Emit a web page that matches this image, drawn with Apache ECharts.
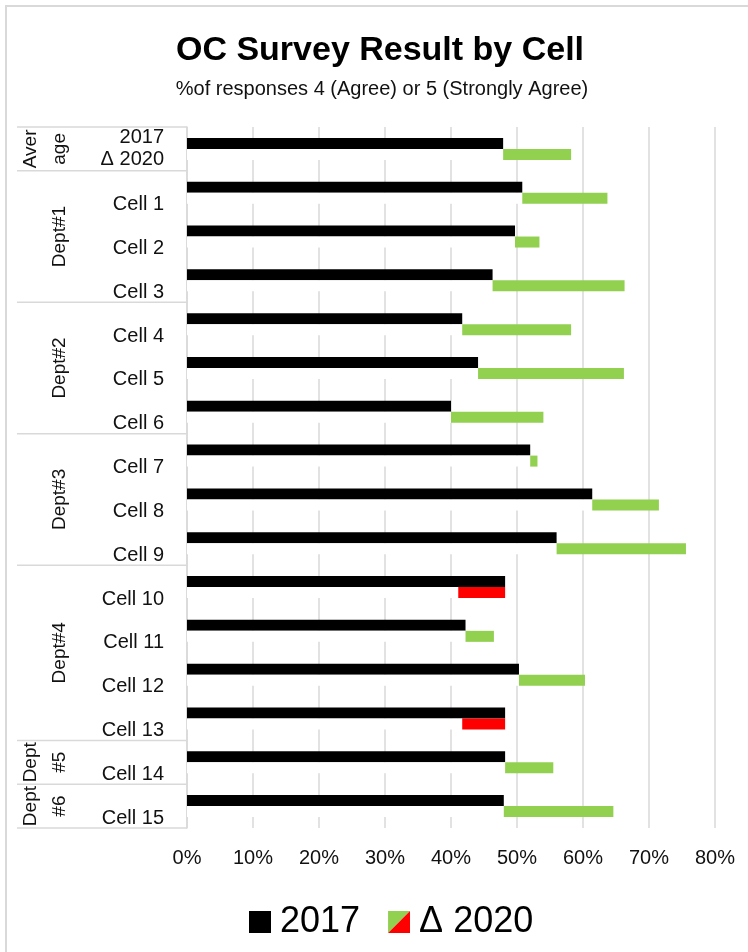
<!DOCTYPE html>
<html><head><meta charset="utf-8">
<script src="https://cdn.jsdelivr.net/npm/echarts@6/dist/echarts.min.js"></script>
<style>html,body{margin:0;padding:0;background:#fff}#c{width:748px;height:952px}</style>
</head><body><div id="c"></div>
<script>
// ---- data ----
const categories = ['Average','Cell 1','Cell 2','Cell 3','Cell 4','Cell 5','Cell 6','Cell 7','Cell 8','Cell 9','Cell 10','Cell 11','Cell 12','Cell 13','Cell 14','Cell 15'];
const values2017 = [47.9,50.8,49.7,46.3,41.7,44.1,40.0,52.0,61.4,56.0,48.2,42.2,50.3,48.2,48.2,48.0];
const values2020 = [58.2,63.7,53.4,66.3,58.2,66.2,54.0,53.1,71.5,75.6,41.1,46.5,60.3,41.7,55.5,64.6];
const groupLabels = [['Aver','age'],['Dept#1'],['Dept#2'],['Dept#3'],['Dept#4'],['Dept','#5'],['Dept','#6']];
const groupSizes = [1,3,3,3,4,1,1];
const xTicks = [0,10,20,30,40,50,60,70,80];
const averageLabel = '2017\nΔ 2020';

const FONT = "'Liberation Sans', Arial, sans-serif";
const GREEN = '#92d050', RED = '#ff0000';

const baseVals = values2017.map((v,i)=>Math.min(v, values2020[i]));
const deltaVals = values2020.map((v,i)=>({
  value: Math.abs(v - values2017[i]),
  itemStyle: {color: v >= values2017[i] ? GREEN : RED}
}));

const iconSvg = '<svg xmlns="http://www.w3.org/2000/svg" width="22" height="22"><polygon points="0,0 22,0 0,22" fill="'+GREEN+'"/><polygon points="22,0 22,22 0,22" fill="'+RED+'"/></svg>';
const iconUrl = 'image://data:image/svg+xml;charset=utf-8,' + encodeURIComponent(iconSvg);

const chart = echarts.init(document.getElementById('c'), null, {renderer:'canvas'});
chart.setOption({
  animation: false,
  backgroundColor: '#fff',
  title: [
    {text:'OC Survey Result by Cell', left:375, top:29, textAlign:'center',
     textStyle:{fontFamily:FONT, fontSize:34, fontWeight:'bold', color:'#000'}},
    {text:'%of responses 4 (Agree) or 5 (Strongly Agree)', left:377, top:74, textAlign:'center',
     textStyle:{fontFamily:FONT, fontSize:20, fontWeight:'normal', color:'#111'}}
  ],
  legend: {
    left: 249, top: 904, padding: 0, itemWidth: 22, itemHeight: 22, itemGap: 28,
    data: [{name:'2017', icon:'rect'}, {name:'Δ 2020', icon: iconUrl}],
    textStyle: {fontFamily: FONT, fontSize: 36, color:'#000', padding:[0,0,0,4]}
  },
  grid: {left:187, right:33, top:127, bottom:124, containLabel:false},
  xAxis: {
    type:'value', min:0, max:80, interval:10,
    axisLine:{show:false}, axisTick:{show:false},
    axisLabel:{formatter: v => v + '%', fontFamily:FONT, fontSize:20, color:'#111', margin:20},
    splitLine:{show:true, lineStyle:{color:'#d9d9d9', width:1.5}}
  },
  yAxis: {
    type:'category', inverse:true,
    data: categories.map((c,i)=> i===0 ? {value:c, textStyle:{verticalAlign:'middle', lineHeight:22}} : c),
    axisLine:{show:true, lineStyle:{color:'#d9d9d9', width:1.5}},
    axisTick:{show:false},
    axisLabel:{fontFamily:FONT, fontSize:20, color:'#111', margin:23, verticalAlign:'top', lineHeight:24,
      formatter: v => v === 'Average' ? averageLabel : v}
  },
  series: [
    {name:'2017', type:'bar', data: values2017, barWidth:11, barGap:'0%',
     itemStyle:{color:'#000'}},
    {name:'base', type:'bar', stack:'d', data: baseVals, barWidth:11, silent:true,
     itemStyle:{color:'#fff'}},
    {name:'Δ 2020', type:'bar', stack:'d', data: deltaVals, barWidth:11,
     itemStyle:{color:GREEN}}
  ]
});

// group labels and separators in the label column
const yPix = i => chart.convertToPixel({yAxisIndex:0}, i);
const band = Math.abs(yPix(1) - yPix(0));
const graphics = [
  {type:'line', shape:{x1:6, y1:6, x2:6, y2:952}, style:{stroke:'#d9d9d9', lineWidth:2}, silent:true},
  {type:'line', shape:{x1:5, y1:6, x2:748, y2:6}, style:{stroke:'#d9d9d9', lineWidth:2}, silent:true}
];
let start = 0;
groupLabels.forEach((lines, g) => {
  const end = start + groupSizes[g] - 1;
  const top = yPix(start) - band/2;
  const bottom = yPix(end) + band/2;
  graphics.push({type:'line', shape:{x1:17, y1:top, x2:187, y2:top}, style:{stroke:'#d9d9d9', lineWidth:1.5}, silent:true});
  if (g === groupLabels.length - 1) {
    graphics.push({type:'line', shape:{x1:17, y1:bottom, x2:187, y2:bottom}, style:{stroke:'#d9d9d9', lineWidth:1.5}, silent:true});
  }
  const cy = (top + bottom) / 2;
  const xs = lines.length === 1 ? [60] : [31, 60];
  lines.forEach((t, k) => {
    graphics.push({type:'text', x: xs[k], y: cy, rotation: Math.PI/2, silent:true,
      style:{text:t, fontFamily:FONT, fontSize:19, fill:'#111', align:'center', verticalAlign:'middle'}});
  });
  start = end + 1;
});
chart.setOption({graphic: graphics});
</script></body></html>
